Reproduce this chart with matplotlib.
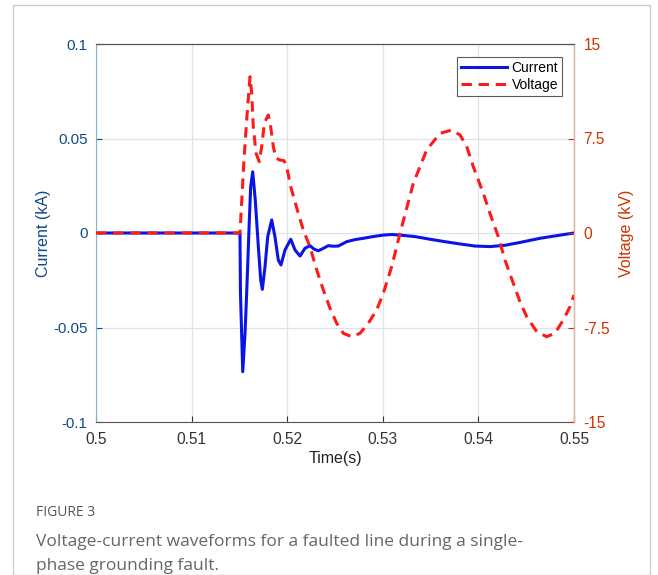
import numpy as np
import matplotlib.pyplot as plt
from matplotlib.patches import Rectangle

# current waveform (s, kA)
t_cur = [0.5, 0.51506, 0.51511, 0.51535, 0.51559, 0.51576, 0.51604, 0.51618, 0.51639,
         0.51666, 0.51698, 0.51723, 0.5174, 0.51768, 0.51796, 0.51838, 0.51872, 0.51907,
         0.51935, 0.51977, 0.52037, 0.52082, 0.52134, 0.52186, 0.52238, 0.5228, 0.52325,
         0.52375, 0.5243, 0.52479, 0.52535, 0.52622, 0.52709, 0.52796, 0.52897, 0.53005,
         0.53096, 0.5318, 0.53337, 0.53494, 0.53651, 0.53808, 0.53964, 0.54121, 0.54278,
         0.54435, 0.54644, 0.54833, 0.55]
current = [0, 0, -0.0317, -0.0734, -0.0529, -0.0319, 0.0069, 0.0245, 0.0324,
           0.0175, -0.0072, -0.0249, -0.0298, -0.0178, -0.002, 0.0069, -0.002, -0.0143,
           -0.0169, -0.009, -0.0033, -0.009, -0.0122, -0.0081, -0.0067, -0.0085, -0.0094,
           -0.0082, -0.0067, -0.007, -0.0069, -0.0046, -0.0035, -0.0028, -0.0019, -0.0011,
           -0.0008, -0.0011, -0.0019, -0.0033, -0.0046, -0.0058, -0.0069, -0.0072, -0.0065,
           -0.005, -0.0028, -0.0013, 0]

# voltage waveform (s, kV)
t_volt = [0.5, 0.51506, 0.51548, 0.51576, 0.51611, 0.51629, 0.51645, 0.51674, 0.51708,
          0.51733, 0.51761, 0.51802, 0.51827, 0.51855, 0.51883, 0.51925, 0.51967, 0.51995,
          0.52037, 0.52106, 0.52168, 0.52238, 0.52309, 0.52378, 0.52448, 0.52518, 0.52587,
          0.52675, 0.52762, 0.52848, 0.52936, 0.53005, 0.53093, 0.5318, 0.5325, 0.53319,
          0.53389, 0.53459, 0.53598, 0.53721, 0.53808, 0.53878, 0.53947, 0.54051, 0.54121,
          0.54208, 0.54278, 0.54365, 0.54435, 0.54505, 0.5461, 0.54714, 0.54801, 0.54888,
          0.54958, 0.55]
voltage = [0, 0, 5.8, 8.97, 12.4, 11.09, 8.44, 6.33, 5.66,
           6.85, 8.71, 9.37, 8.44, 6.85, 5.93, 5.79, 5.74, 5.26,
           3.67, 1.83, 0.24, -1.09, -2.94, -4.52, -5.98, -7.17, -7.96,
           -8.23, -7.96, -7.17, -6.11, -4.79, -2.67, -0.02, 1.96, 3.94,
           5.26, 6.59, 7.91, 8.17, 7.78, 6.85, 5.26, 3.15, 1.56,
           -0.29, -2.14, -3.99, -5.45, -6.64, -7.83, -8.23, -7.96, -6.9,
           -5.85, -4.92]

plt.rcParams['font.family'] = ['Liberation Sans', 'DejaVu Sans']

fig = plt.figure(figsize=(6.58, 5.75), dpi=100)
ax = fig.add_axes([96/658, 1-422/575, (574-96)/658, (422-44)/575])
ax2 = ax.twinx()

ax.plot(t_cur, current, color='#0a14e6', lw=2.2, label='Current')
ax2.plot(t_volt, voltage, color='#ff1a1a', lw=2.2, ls=(0, (3.4, 2.2)), label='Voltage')

ax.set_xlim(0.5, 0.55)
ax.set_ylim(-0.1, 0.1)
ax2.set_ylim(-15, 15)
ax.set_xticks(np.arange(0.5, 0.5501, 0.01))
ax.set_xticklabels(['0.5', '0.51', '0.52', '0.53', '0.54', '0.55'])
ax.set_yticks([-0.1, -0.05, 0, 0.05, 0.1])
ax.set_yticklabels(['-0.1', '-0.05', '0', '0.05', '0.1'])
ax2.set_yticks([-15, -7.5, 0, 7.5, 15])
ax2.set_yticklabels(['-15', '-7.5', '0', '7.5', '15'])

ax.grid(True, color='#dde3e8', lw=0.9)
ax.set_axisbelow(True)

blue_txt = '#0d4a86'
red_txt = '#cc3300'
ax.tick_params(axis='y', colors=blue_txt, labelsize=10.8, direction='in', length=4, pad=6)
ax.tick_params(axis='x', colors='#333333', labelsize=11.2, direction='in', length=4, pad=7)
ax2.tick_params(axis='y', colors=red_txt, labelsize=11.2, direction='in', length=4, pad=7)
ax.set_ylabel('Current (kA)', color=blue_txt, fontsize=11.5, labelpad=2)
ax2.set_ylabel('Voltage (kV)', color=red_txt, fontsize=11.5, labelpad=6)
ax.set_xlabel('Time(s)', color='#222222', fontsize=11.5, labelpad=3)

ax.spines['left'].set_color('#7ab6d6')
ax.spines['bottom'].set_color('#555555')
ax.spines['top'].set_color('#555555')
ax2.spines['right'].set_color('#e8b49a')
ax2.spines['left'].set_visible(False)
ax2.spines['top'].set_color('#555555')
ax2.spines['bottom'].set_visible(False)

h1, l1 = ax.get_legend_handles_labels()
h2, l2 = ax2.get_legend_handles_labels()
leg = ax2.legend(h1 + h2, l1 + l2, loc='upper right', bbox_to_anchor=(0.99, 0.985),
                 fontsize=10, frameon=True, fancybox=False, handlelength=3.3,
                 borderpad=0.3, labelspacing=0.25, handletextpad=0.3)
leg.get_frame().set_edgecolor('#333333')
leg.get_frame().set_linewidth(0.8)

# outer frame and caption
fig.add_artist(Rectangle((13/658, 0), (650-13)/658, 1-5/575, transform=fig.transFigure,
                         fill=False, edgecolor='#cccccc', lw=1.0))
fig.text(36/658, 1-512/575, 'FIGURE 3', fontsize=10, color='#555555',
         family=['Open Sans', 'DejaVu Sans'], va='center')
fig.text(36/658, 1-534/575,
         'Voltage-current waveforms for a faulted line during a single-\nphase grounding fault.',
         fontsize=12.5, color='#666666', family=['Open Sans', 'DejaVu Sans'],
         va='top', ha='left', linespacing=1.7)

fig.savefig('out.png', dpi=100)
